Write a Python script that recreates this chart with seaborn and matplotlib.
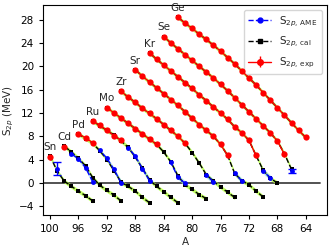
import matplotlib
matplotlib.use("Agg")
import matplotlib.pyplot as plt
import seaborn as sns
import pandas as pd
import numpy as np

# --------------------
# data (S2p in MeV vs mass number A)
# --------------------
elements = ['Sn', 'Cd', 'Pd', 'Ru', 'Mo', 'Zr', 'Sr', 'Kr', 'Se', 'Ge']

# calculated chains, A goes down from N=50
a_cal = {
    'Sn': list(range(100, 93, -1)),
    'Cd': list(range(98, 89, -1)),
    'Pd': list(range(96, 85, -1)),
    'Ru': list(range(94, 81, -1)),
    'Mo': list(range(92, 77, -1)),
    'Zr': list(range(90, 73, -1)),
    'Sr': list(range(88, 69, -1)),
    'Kr': list(range(86, 67, -1)),
    'Se': list(range(84, 65, -1)),
    'Ge': list(range(82, 63, -1)),
}
cal_sn = [4.6, 2.0, 0.3, -0.6, -1.4, -2.2, -3.1]
cal_cd = [6.3, 5.3, 4.2, 2.9, 0.9, -0.4, -1.3, -2.1, -3.1]
cal_pd = [8.4, 7.6, 6.8, 5.5, 4.0, 2.1, 0.1, -0.6, -1.4, -2.5, -3.4]
cal_ru = [10.6, 9.8, 9.0, 8.2, 7.2, 6.1, 4.4, 2.5, 0.5, -0.6, -1.5, -2.5, -3.4]
cal_mo = [12.9, 12.0, 11.1, 10.2, 9.3, 8.4, 7.5, 6.6, 5.3, 3.6, 1.2, -0.3,
          -1.1, -2.0, -2.7]
cal_zr = [15.7, 14.7, 13.8, 12.8, 11.9, 11.0, 10.0, 9.0, 8.0, 6.8, 5.2, 3.4,
          1.4, 0.3, -0.7, -1.6, -2.5]
cal_sr = [19.4, 18.3, 17.3, 16.3, 15.3, 14.3, 13.3, 12.2, 11.1, 10.0, 9.0,
          8.0, 6.6, 4.7, 1.6, 0.4, -0.3, -1.4, -2.4]
cal_kr = [22.3, 21.2, 20.2, 19.2, 18.2, 17.2, 16.2, 15.1, 14.1, 13.0, 12.0,
          10.9, 9.6, 8.6, 7.3, 4.7, 2.2, 0.8, 0.0]
cal_se = [25.1, 24.0, 23.0, 22.0, 21.0, 20.0, 19.0, 18.0, 16.9, 15.8, 14.6,
          13.4, 12.2, 11.0, 9.8, 8.6, 7.2, 5.0, 2.3]
cal_ge = [28.4, 27.4, 26.5, 25.5, 24.6, 23.6, 22.6, 21.5, 20.4, 19.2, 18.0,
          16.8, 15.5, 14.2, 12.9, 11.6, 10.3, 9.0, 7.8]
cal_vals = [cal_sn, cal_cd, cal_pd, cal_ru, cal_mo, cal_zr, cal_sr, cal_kr,
            cal_se, cal_ge]

# AME (blue) points
ame_a = [[99], [97, 96, 95, 94], [93, 92, 91, 90], [89, 88, 87, 86],
         [83, 82, 81], [78, 77], [74, 73], [70, 69], [66], []]
ame_s = [[2.4], [5.0, 4.1, 2.6, 0.2], [5.6, 4.2, 2.3, 0.0], [6.0, 4.6, 2.4, 0.4],
         [3.5, 1.0, -0.1], [1.3, 0.2], [1.7, 0.3], [2.0, 0.9], [2.1], []]
ame_err = [[1.1], [0.2, 0.3, 0.4, 0.5], [0.2, 0.3, 0.4, 0.5], [0.2, 0.3, 0.4, 0.5],
           [0.3, 0.4, 0.5], [0.4, 0.5], [0.4, 0.5], [0.4, 0.5], [0.35], []]

# experimental (red) points
exp_a = [[100], [98], [96, 95, 94], list(range(94, 89, -1)),
         list(range(92, 84, -1)), list(range(90, 80, -1)),
         list(range(88, 74, -1)), list(range(86, 70, -1)),
         list(range(84, 66, -1)), list(range(82, 63, -1))]
exp_s = [[4.4], [6.1], [8.4, 7.7, 6.9], [10.6, 9.9, 9.0, 8.1, 7.3],
         [12.9, 12.0, 11.1, 10.2, 9.3, 8.4, 7.5, 6.6],
         [15.7, 14.7, 13.8, 12.8, 11.9, 11.0, 10.0, 9.0, 8.0, 6.8],
         [19.4, 18.3, 17.3, 16.3, 15.3, 14.3, 13.3, 12.2, 11.1, 10.0, 9.0,
          8.0, 6.6, 4.7],
         [22.3, 21.2, 20.2, 19.2, 18.2, 17.2, 16.2, 15.1, 14.1, 13.0, 12.0,
          10.9, 9.6, 8.6, 7.3, 4.7],
         [25.1, 24.0, 23.0, 22.0, 21.0, 20.0, 19.0, 18.0, 16.9, 15.8, 14.6,
          13.4, 12.2, 11.0, 9.8, 8.6, 7.2, 4.9],
         [28.4, 27.4, 26.5, 25.5, 24.6, 23.6, 22.6, 21.5, 20.4, 19.2, 18.0,
          16.8, 15.5, 14.2, 12.9, 11.6, 10.3, 9.0, 7.8]]
exp_err = [[0.45], [0.25], [0.2, 0.2, 0.25], [0.2, 0.2, 0.2, 0.2, 0.25],
           [0.2] * 7 + [0.3],
           [0.2] * 9 + [0.3],
           [0.2] * 12 + [0.3, 0.45],
           [0.2] * 14 + [0.3, 0.45],
           [0.2] * 16 + [0.3, 0.5],
           [0.2] * 17 + [0.25, 0.3]]

cal_band = 0.35

# --------------------
# plot
# --------------------
sns.set_style("ticks")
plt.rcParams['font.family'] = ['DejaVu Sans']
plt.rcParams['axes.edgecolor'] = 'black'
plt.rcParams['xtick.color'] = 'black'
plt.rcParams['ytick.color'] = 'black'

fig = plt.figure(figsize=(3.32, 2.52), dpi=100)
ax = fig.add_axes([0.1295, 0.147, 0.8555, 0.833])

ax.plot([101, 62], [0, 0], color='#444444', lw=1.3, zorder=1)

for i, el in enumerate(elements):
    df = pd.DataFrame({'A': a_cal[el], 'S': cal_vals[i]})
    ax.fill_between(df['A'], df['S'] - cal_band, df['S'] + cal_band,
                    color='greenyellow', alpha=0.75, lw=0, zorder=2)
    sns.lineplot(data=df, x='A', y='S', ax=ax, color='k', linestyle='--',
                 marker='s', markersize=3.4, markeredgewidth=0, lw=1,
                 zorder=4, legend=False)
    if ame_a[i]:
        da = pd.DataFrame({'A': ame_a[i], 'S': ame_s[i], 'e': ame_err[i]})
        ax.fill_between(da['A'], da['S'] - da['e'], da['S'] + da['e'],
                        color='lightskyblue', alpha=0.55, lw=0, zorder=3)
        sns.lineplot(data=da, x='A', y='S', ax=ax, color='b', linestyle='--',
                     marker='o', markersize=3.5, markeredgewidth=0, lw=1,
                     zorder=5, legend=False)
        if el in ('Sn', 'Se'):
            ax.errorbar(da['A'], da['S'], yerr=da['e'], fmt='none',
                        ecolor='b', elinewidth=1, capsize=3, zorder=5)
    ax.errorbar(exp_a[i], exp_s[i], yerr=exp_err[i], fmt='o-', color='r',
                ms=4.5, mew=0, lw=1, elinewidth=1, capsize=2.4, zorder=6)
    ax.annotate(el, (a_cal[el][0], cal_vals[i][0]), xytext=(0, 3),
                textcoords='offset points', ha='center', va='bottom',
                fontsize=7.5)

ax.set_xlim(101, 61)
ax.set_ylim(-5.5, 30.5)
ax.set_xticks(np.arange(100, 63, -4))
ax.set_yticks(np.arange(-4, 29, 4))
ax.tick_params(labelsize=7.5, length=3, width=0.8)
ax.set_xlabel('A', fontsize=7.5, labelpad=2)
ax.set_ylabel('S$_{2p}$ (MeV)', fontsize=7.5, labelpad=2)

h_ame, = ax.plot([], [], color='b', ls='--', marker='o', ms=3.5, lw=1)
h_cal, = ax.plot([], [], color='k', ls='--', marker='s', ms=3, lw=1)
h_exp = ax.errorbar([], [], yerr=[], fmt='o-', color='r', ms=4, lw=1,
                    capsize=2.5)
ax.legend([h_ame, h_cal, h_exp],
          [r'S$_{2p,\,\mathrm{AME}}$', r'S$_{2p,\,\mathrm{cal}}$',
           r'S$_{2p,\,\mathrm{exp}}$'],
          loc='upper right', fontsize=7.5, handlelength=2.2,
          borderaxespad=0.5, labelspacing=0.6)

fig.savefig('out.png', dpi=100)
